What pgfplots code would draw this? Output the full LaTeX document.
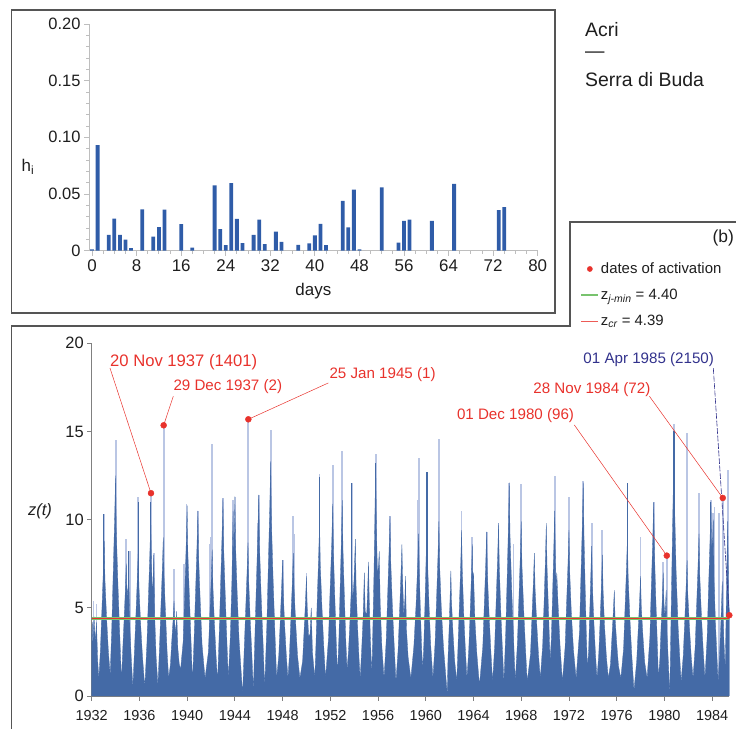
\documentclass[border=0pt]{standalone}
\usepackage{pgfplots}
\pgfplotsset{compat=1.18}
\usepackage{pgfplotstable}
\usepackage{fontspec}
\setmainfont{Liberation Sans}

\definecolor{barblue}{RGB}{47,92,168}
\definecolor{zdark}{RGB}{68,106,166}
\definecolor{zlight}{RGB}{186,198,228}
\definecolor{annred}{RGB}{232,50,44}
\definecolor{annnavy}{RGB}{50,50,140}
\definecolor{thrgreen}{RGB}{120,195,110}
\definecolor{framegray}{RGB}{85,85,85}
\definecolor{axgray}{RGB}{190,190,190}
\definecolor{txt}{RGB}{30,30,30}

% histogram of h_i against days
\pgfplotstableread{
day h
0  0.0012
1  0.0932
3  0.0140
4  0.0282
5  0.0140
6  0.0098
7  0.0022
9  0.0364
11 0.0124
12 0.0207
13 0.0362
16 0.0235
18 0.0027
22 0.0577
23 0.0190
24 0.0049
25 0.0595
26 0.0280
27 0.0066
29 0.0140
30 0.0273
31 0.0057
33 0.0168
34 0.0077
37 0.0052
39 0.0065
40 0.0134
41 0.0236
42 0.0050
45 0.0440
46 0.0205
47 0.0538
48 0.0012
52 0.0558
55 0.0072
56 0.0262
57 0.0275
61 0.0264
65 0.0590
73 0.0357
74 0.0385
}\hist

% single high values (pale spikes)
\pgfplotstableread{
t z
1932.15 5.4
1932.40 5.2
1933.00 10.3
1934.00 13.5
1934.05 14.5
1934.85 8.9
1935.20 8.2
1935.90 11.3
1936.97 11.5
1937.20 8.1
1938.03 15.35
1938.90 7.2
1939.75 7.5
1939.95 10.9
1940.90 10.5
1941.90 8.6
1942.00 9.0
1942.10 14.3
1943.00 11.2
1943.85 11.1
1944.05 11.3
1945.13 15.69
1945.90 9.8
1946.00 11.4
1947.00 15.1
1948.00 7.7
1948.90 10.2
1949.00 9.2
1950.00 7.0
1951.10 12.6
1952.20 13.1
1953.00 13.9
1953.80 12.1
1955.80 13.7
1957.00 10.2
1959.30 11.1
1959.40 13.5
1960.10 12.7
1961.10 14.6
1963.00 10.5
1963.90 9.0
1965.10 9.3
1966.10 9.8
1967.00 12.1
1967.35 8.6
1968.00 12.0
1970.80 12.5
1972.00 11.3
1973.20 12.2
1973.90 9.8
1974.80 9.4
1976.90 12.1
1978.00 9.0
1979.10 11.0
1979.90 7.6
1980.20 7.96
1980.80 15.4
1981.90 14.9
1982.90 11.5
1983.90 11.1
1984.05 10.4
1984.20 10.7
1984.60 10.4
1984.89 11.23
1985.30 12.8
}\zlightspk

% single high values (dark spikes)
\pgfplotstableread{
t z
1933.00 10.3
1935.10 8.2
1935.90 11.0
1936.95 11.0
1951.10 12.4
1953.80 12.1
1955.80 13.2
1960.10 12.7
1976.90 12.1
1980.80 15.0
1983.90 11.0
}\zdarkspk

% dates of activation
\pgfplotstableread{
t z
1936.97 11.50
1938.03 15.35
1945.13 15.69
1980.20 7.96
1984.89 11.23
1985.44 4.58
}\zdots

\begin{document}
\begin{tikzpicture}[x=1bp,y=1bp]
\useasboundingbox (0,0) rectangle (736,729);

% panel frames
\draw[framegray, line width=1.3bp] (11.5,416) rectangle (555,719);
\draw[framegray, line width=1.3bp] (11.5,-2) -- (11.5,403) -- (570,403) -- (570,507) -- (738,507);

% station names
\node[anchor=west, inner sep=0, text=txt, font=\fontsize{19.5}{20}\selectfont] at (585,699) {Acri};
\node[anchor=west, inner sep=0, text=txt, font=\fontsize{19.5}{20}\selectfont] at (585,674) {—};
\node[anchor=west, inner sep=0, text=txt, font=\fontsize{19.5}{20}\selectfont] at (585,649) {Serra di Buda};
\node[anchor=east, inner sep=0, text=txt, font=\fontsize{17.5}{18}\selectfont] at (734,491) {(b)};

% ---------- top panel ----------
\begin{axis}[
    at={(89bp,478.3bp)}, anchor=south west,
    scale only axis, width=448.7bp, height=226.7bp,
    xmin=-0.55, xmax=80, ymin=0, ymax=0.2,
    axis x line*=bottom, axis y line*=left,
    axis line style={axgray, line width=0.9bp},
    tick style={axgray, line width=0.9bp},
    tick align=outside,
    major tick length=5bp, minor tick length=3bp,
    xtick={0,8,...,80}, minor x tick num=3,
    ytick={0,0.05,0.10,0.15,0.20},
    yticklabels={0,0.05,0.10,0.15,0.20},
    minor y tick num=4,
    /pgf/number format/assume math mode=true,
    xticklabel style={font=\fontsize{17}{18}\selectfont, text=txt},
    yticklabel style={font=\fontsize{16.5}{18}\selectfont, text=txt},
    xlabel={days},
    xlabel style={font=\fontsize{17}{18}\selectfont, text=txt, yshift=-5bp},
    ylabel={h\textsubscript{i}},
    every axis y label/.style={at={(axis description cs:-0.136,0.369)}, anchor=center,
        font=\fontsize{17}{18}\selectfont, text=txt},
]
\addplot[ybar, bar width=3.8bp, fill=barblue, draw=none] table[x=day, y=h] {\hist};
\end{axis}

% ---------- bottom panel ----------
\begin{axis}[
    at={(91.7bp,33bp)}, anchor=south west,
    scale only axis, width=637.6bp, height=352.7bp,
    xmin=1932, xmax=1985.44, ymin=0, ymax=20,
    axis x line*=bottom, axis y line*=left,
    axis line style={gray, line width=0.9bp},
    tick style={gray, line width=0.9bp},
    tick align=outside,
    major tick length=4.5bp, minor tick length=4bp,
    xtick={1932,1936,...,1984}, minor x tick num=3,
    ytick={0,5,...,20},
    /pgf/number format/1000 sep={},
    /pgf/number format/assume math mode=true,
    xticklabel style={font=\fontsize{14.5}{16}\selectfont, text=txt, yshift=-6bp},
    yticklabel style={font=\fontsize{16.5}{18}\selectfont, text=txt},
    ylabel={\itshape z(t)},
    every axis y label/.style={at={(axis description cs:-0.081,0.523)}, anchor=center,
        font=\fontsize{16.5}{18}\selectfont, text=txt},
    clip=false,
    legend style={at={(axis description cs:0.762,1.24)}, anchor=north west,
        draw=none, fill=none, font=\fontsize{15}{16}\selectfont, text=txt,
        row sep=10bp},
    legend cell align=left,
]
\addlegendimage{only marks, mark=*, mark size=2.6bp, annred}
\addlegendentry{dates of activation}
\addlegendimage{thrgreen, line width=1.2bp}
\addlegendentry{z\textsubscript{\itshape j-min} = 4.40}
\addlegendimage{annred!80, line width=1bp}
\addlegendentry{z\textsubscript{\itshape cr} = 4.39}

\addplot[ycomb, zlight, line width=1.8bp, forget plot] table[x=t, y=z] {\zlightspk};

\addplot[fill=zdark, draw=zdark, line width=0.3bp, forget plot] coordinates {
(1932.00,3.5) (1932.05,4.2) (1932.10,2.8) (1932.20,4.5) (1932.30,3.0) (1932.40,4.2) (1932.50,2.0) (1932.60,1.0)
(1932.73,2.6) (1932.85,4.8) (1932.97,7.0) (1933.05,8.8) (1933.11,6.6) (1933.25,4.4) (1933.40,2.5) (1933.55,1.2)
(1933.68,3.8) (1933.80,6.9) (1933.92,10.0) (1934.00,12.5) (1934.06,9.4) (1934.20,6.3) (1934.35,3.5) (1934.50,0.8)
(1934.58,2.3) (1934.70,4.1) (1934.82,6.0) (1934.90,7.5) (1934.96,5.6) (1935.05,6.2) (1935.10,7.0) (1935.20,3.8) (1935.32,2.1) (1935.45,0.5)
(1935.58,2.5) (1935.70,4.5) (1935.82,6.6) (1935.90,8.2) (1935.96,6.2) (1936.10,4.1) (1936.25,2.3) (1936.45,0.5)
(1936.63,3.0) (1936.75,5.5) (1936.87,8.0) (1936.95,10.0) (1937.01,7.5) (1937.10,5.5) (1937.20,8.0) (1937.28,4.5) (1937.40,2.2) (1937.55,0.6)
(1937.68,2.7) (1937.80,5.0) (1937.92,7.2) (1938.00,9.0) (1938.06,6.8) (1938.20,4.5) (1938.32,2.5) (1938.45,1.0)
(1938.60,1.8) (1938.70,3.0) (1938.82,4.3) (1938.90,5.4) (1938.96,4.1) (1939.05,3.5) (1939.12,4.8) (1939.22,2.7) (1939.34,1.8) (1939.45,1.5)
(1939.68,3.2) (1939.80,5.9) (1939.92,8.6) (1940.00,10.8) (1940.06,8.1) (1940.20,5.4) (1940.33,3.0) (1940.45,0.8)
(1940.58,3.2) (1940.70,5.8) (1940.82,8.4) (1940.90,10.5) (1940.96,7.9) (1941.10,5.3) (1941.25,2.9) (1941.50,1.0)
(1941.78,2.5) (1941.90,4.6) (1942.02,6.6) (1942.10,8.3) (1942.16,6.2) (1942.28,4.2) (1942.42,2.3) (1942.55,0.8)
(1942.68,3.4) (1942.80,6.2) (1942.92,9.0) (1943.00,11.2) (1943.06,8.4) (1943.20,5.6) (1943.33,3.1) (1943.45,1.0)
(1943.62,3.4) (1943.75,6.5) (1943.85,10.5) (1943.90,7.5) (1943.94,9.0) (1944.00,11.3) (1944.06,8.5) (1944.20,5.7) (1944.35,3.2) (1944.65,0.1)
(1944.78,2.6) (1944.90,4.8) (1945.02,7.0) (1945.10,8.7) (1945.16,6.5) (1945.28,4.4) (1945.42,2.4) (1945.55,0.3)
(1945.68,3.4) (1945.80,6.3) (1945.92,9.1) (1946.00,11.4) (1946.06,8.6) (1946.20,5.7) (1946.35,3.2) (1946.50,0.5)
(1946.68,4.0) (1946.80,7.3) (1946.92,10.6) (1947.00,13.3) (1947.06,10.0) (1947.20,6.7) (1947.35,3.7) (1947.50,1.0)
(1947.68,2.3) (1947.80,4.2) (1947.92,6.2) (1948.00,7.7) (1948.06,5.8) (1948.18,3.9) (1948.32,2.2) (1948.45,1.0)
(1948.58,2.4) (1948.70,4.5) (1948.82,6.5) (1948.90,8.1) (1948.96,6.1) (1949.10,4.1) (1949.25,2.3) (1949.45,1.0)
(1949.68,2.0) (1949.80,3.7) (1949.92,5.4) (1950.00,6.8) (1950.06,5.1) (1950.18,3.4) (1950.30,3.5) (1950.40,5.0) (1950.50,2.5) (1950.70,1.0)
(1950.80,3.0) (1950.90,5.4) (1951.02,7.9) (1951.10,9.9) (1951.16,7.4) (1951.30,5.0) (1951.45,2.8) (1951.60,1.0)
(1951.85,3.3) (1951.98,6.0) (1952.12,8.7) (1952.20,10.9) (1952.26,8.2) (1952.38,5.5) (1952.50,3.0) (1952.60,1.2)
(1952.72,3.3) (1952.82,6.1) (1952.93,8.9) (1953.00,11.1) (1953.06,8.3) (1953.18,5.6) (1953.30,3.1) (1953.40,1.5)
(1953.52,2.5) (1953.62,3.9) (1953.73,5.6) (1953.80,7.0) (1953.86,5.3) (1953.98,6.5) (1954.10,8.9) (1954.16,6.2) (1954.28,4.0) (1954.40,2.2) (1954.50,1.0)
(1954.62,2.5) (1954.75,4.5) (1954.85,7.0) (1954.92,4.8) (1955.05,4.6) (1955.13,6.1) (1955.20,7.6) (1955.26,5.5) (1955.36,3.2) (1955.48,1.2)
(1955.57,4.0) (1955.66,7.0) (1955.74,10.5) (1955.80,13.2) (1955.86,9.8) (1955.95,6.8) (1956.05,7.5) (1956.10,8.2) (1956.18,5.2) (1956.32,2.8) (1956.50,1.0)
(1956.68,3.1) (1956.80,5.6) (1956.92,8.2) (1957.00,10.2) (1957.06,7.7) (1957.20,5.1) (1957.35,2.9) (1957.50,0.8)
(1957.68,2.6) (1957.80,4.7) (1957.92,6.9) (1958.00,8.6) (1958.06,6.5) (1958.16,4.6) (1958.25,5.5) (1958.30,6.8) (1958.38,3.8) (1958.52,2.2) (1958.75,1.0)
(1959.00,2.8) (1959.18,5.1) (1959.32,7.4) (1959.40,9.2) (1959.46,6.9) (1959.56,4.6) (1959.66,2.6) (1959.75,1.5)
(1959.84,3.0) (1959.94,5.4) (1960.03,7.9) (1960.10,9.9) (1960.16,7.4) (1960.28,5.0) (1960.42,2.8) (1960.60,1.0)
(1960.78,3.0) (1960.90,5.4) (1961.02,7.9) (1961.10,9.9) (1961.16,7.4) (1961.30,5.0) (1961.48,2.8) (1961.80,0.1)
(1961.86,2.1) (1961.96,3.9) (1962.04,5.7) (1962.10,7.1) (1962.16,5.3) (1962.28,3.6) (1962.42,2.0) (1962.60,0.8)
(1962.70,2.8) (1962.82,5.2) (1962.93,7.5) (1963.00,9.4) (1963.06,7.1) (1963.18,4.7) (1963.32,2.6) (1963.45,1.0)
(1963.60,2.6) (1963.72,4.7) (1963.83,6.9) (1963.90,8.6) (1963.95,6.5) (1964.00,7.0) (1964.12,4.3) (1964.28,2.4) (1964.50,0.6)
(1964.78,2.8) (1964.90,5.1) (1965.02,7.4) (1965.10,9.3) (1965.16,7.0) (1965.30,4.7) (1965.45,2.6) (1965.60,0.8)
(1965.78,2.9) (1965.90,5.4) (1966.02,7.8) (1966.10,9.8) (1966.16,7.4) (1966.28,4.9) (1966.42,2.7) (1966.55,0.8)
(1966.70,3.6) (1966.82,6.7) (1966.93,9.7) (1967.00,12.1) (1967.06,9.1) (1967.20,6.1) (1967.35,3.4) (1967.50,0.8)
(1967.68,3.0) (1967.80,5.4) (1967.92,7.9) (1968.00,9.9) (1968.06,7.4) (1968.20,5.0) (1968.35,2.8) (1968.50,0.8)
(1968.78,2.4) (1968.90,4.5) (1969.02,6.5) (1969.10,8.1) (1969.16,6.1) (1969.30,4.1) (1969.45,2.3) (1969.60,1.0)
(1969.80,2.9) (1969.92,5.4) (1970.03,7.8) (1970.10,9.8) (1970.16,7.4) (1970.28,4.9) (1970.42,2.0)
(1970.52,3.2) (1970.63,5.8) (1970.73,8.4) (1970.80,10.5) (1970.86,7.9) (1970.92,6.0) (1970.98,7.0) (1971.08,5.3) (1971.25,2.9) (1971.45,0.8)
(1971.68,2.8) (1971.80,5.2) (1971.92,7.5) (1972.00,9.4) (1972.06,7.1) (1972.20,4.7) (1972.38,2.6) (1972.60,1.0)
(1972.88,3.6) (1973.00,6.7) (1973.12,9.7) (1973.20,12.1) (1973.26,9.1) (1973.36,6.1) (1973.46,3.4) (1973.55,1.5)
(1973.65,2.6) (1973.74,4.7) (1973.83,6.8) (1973.90,8.5) (1973.96,6.4) (1974.08,4.3) (1974.22,2.4) (1974.35,1.0)
(1974.50,2.4) (1974.62,4.4) (1974.73,6.4) (1974.80,8.0) (1974.86,6.0) (1974.98,4.0) (1975.14,2.2) (1975.30,1.0)
(1975.48,1.8) (1975.60,3.3) (1975.72,4.8) (1975.80,6.0) (1975.86,4.5) (1976.00,3.0) (1976.15,1.7) (1976.35,1.0)
(1976.58,2.7) (1976.70,5.0) (1976.82,7.2) (1976.90,9.0) (1976.96,6.8) (1977.10,4.5) (1977.25,2.5) (1977.45,0.3)
(1977.68,2.0) (1977.80,3.7) (1977.92,5.4) (1978.00,6.8) (1978.06,5.1) (1978.20,3.4) (1978.35,1.9) (1978.55,1.0)
(1978.78,3.3) (1978.90,6.1) (1979.02,8.8) (1979.10,11.0) (1979.16,8.3) (1979.28,5.5) (1979.40,3.1) (1979.50,1.0)
(1979.62,2.1) (1979.72,3.9) (1979.83,5.6) (1979.90,7.0) (1979.96,5.3) (1980.05,4.5) (1980.15,6.0) (1980.22,3.5) (1980.34,1.8) (1980.45,0.0)
(1980.55,4.2) (1980.64,7.8) (1980.73,11.3) (1980.80,14.1) (1980.86,10.6) (1980.98,7.1) (1981.15,3.9) (1981.40,0.8)
(1981.58,2.3) (1981.70,4.2) (1981.82,6.2) (1981.90,7.7) (1981.96,5.8) (1982.10,3.9) (1982.25,2.2) (1982.40,1.0)
(1982.58,2.8) (1982.70,5.1) (1982.82,7.4) (1982.90,9.2) (1982.96,6.9) (1983.10,4.6) (1983.25,2.6) (1983.40,1.0)
(1983.58,3.3) (1983.70,6.1) (1983.82,8.8) (1983.90,11.0) (1983.96,8.3) (1984.05,9.0) (1984.10,10.0) (1984.16,6.5) (1984.30,3.8) (1984.50,0.8)
(1984.60,2.0) (1984.70,3.6) (1984.79,5.2) (1984.85,6.5) (1984.90,4.9) (1984.98,3.2) (1985.10,1.5)
(1985.18,5.0) (1985.25,7.9) (1985.30,9.9) (1985.35,7.4) (1985.40,5.5) (1985.44,4.6)
} \closedcycle;

\addplot[ycomb, zdark, line width=1.1bp, forget plot] table[x=t, y=z] {\zdarkspk};

\addplot[thrgreen, line width=3bp, forget plot] coordinates {(1932,4.40) (1985.44,4.40)};
\addplot[annred, line width=0.6bp, forget plot] coordinates {(1932,4.39) (1985.44,4.39)};

\addplot[only marks, mark=*, mark size=3bp, annred, forget plot] table[x=t, y=z] {\zdots};

% annotations
\draw[annred, line width=0.5bp] (axis cs:1933.53,18.6) -- (axis cs:1936.97,11.5);
\draw[annred, line width=0.5bp] (axis cs:1938.84,17.0) -- (axis cs:1938.03,15.35);
\draw[annred, line width=0.5bp] (axis cs:1951.83,17.75) -- (axis cs:1945.13,15.69);
\draw[annred, line width=0.5bp] (axis cs:1972.45,15.37) -- (axis cs:1980.20,7.96);
\draw[annred, line width=0.5bp] (axis cs:1978.74,17.0) -- (axis cs:1984.89,11.23);
\draw[annnavy, line width=0.6bp, dash pattern=on 6bp off 1.5bp] (axis cs:1984.10,18.59) -- (axis cs:1985.44,4.58);

\node[anchor=west, inner sep=0, text=annred, font=\fontsize{16.7}{18}\selectfont] at (axis cs:1933.53,18.95) {20 Nov 1937 (1401)};
\node[anchor=west, inner sep=0, text=annred, font=\fontsize{15.2}{16}\selectfont] at (axis cs:1938.84,17.53) {29 Dec 1937 (2)};
\node[anchor=west, inner sep=0, text=annred, font=\fontsize{15.2}{16}\selectfont] at (axis cs:1951.92,18.25) {25 Jan 1945 (1)};
\node[anchor=west, inner sep=0, text=annred, font=\fontsize{15.2}{16}\selectfont] at (axis cs:1962.60,15.88) {01 Dec 1980 (96)};
\node[anchor=west, inner sep=0, text=annred, font=\fontsize{15.2}{16}\selectfont] at (axis cs:1969.00,17.40) {28 Nov 1984 (72)};
\node[anchor=west, inner sep=0, text=annnavy, font=\fontsize{15.2}{16}\selectfont] at (axis cs:1973.20,19.06) {01 Apr 1985 (2150)};
\end{axis}
\end{tikzpicture}
\end{document}
